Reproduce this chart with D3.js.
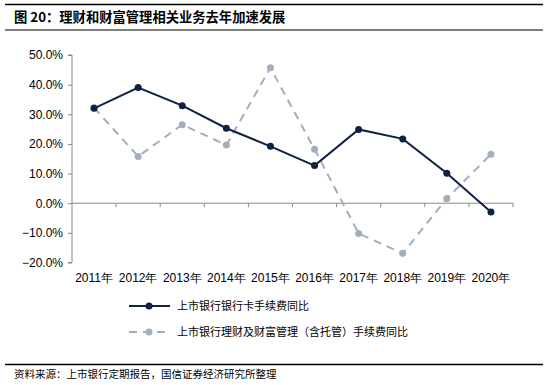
<!DOCTYPE html>
<html>
<head>
<meta charset="utf-8">
<script src="https://cdn.jsdelivr.net/npm/d3@7"></script>
<style>
  body { margin: 0; background: #fff; }
  svg { display: block; }
</style>
</head>
<body>
<div id="chart-container"></div>
<script>
// chart data
const years = ['2011年', '2012年', '2013年', '2014年', '2015年', '2016年', '2017年', '2018年', '2019年', '2020年'];
const cardFee = [32.0, 39.0, 32.9, 25.3, 19.2, 12.7, 24.9, 21.7, 10.1, -3.0];
const wealthFee = [32.2, 15.8, 26.5, 19.6, 45.7, 18.2, -10.2, -16.9, 1.6, 16.5];
const yTicks = [-20, -10, 0, 10, 20, 30, 40, 50];
const seriesNames = ['上市银行银行卡手续费同比', '上市银行理财及财富管理（含托管）手续费同比'];

const W = 548, H = 385;
const font = '"Liberation Sans", Arial, sans-serif';
const cjk = '"Noto Sans CJK SC", sans-serif';

const svg = d3.select('#chart-container')
  .append('svg')
    .attr('width', W)
    .attr('height', H);

// title block
svg.append('line').attr('x1', 5).attr('x2', 543).attr('y1', 4.5).attr('y2', 4.5)
  .attr('stroke', '#000').attr('stroke-width', 1.5);
svg.append('text')
  .attr('x', 14).attr('y', 21.5)
  .attr('font-family', cjk).attr('font-weight', 'bold').attr('font-size', 13.3)
  .text('图 20：理财和财富管理相关业务去年加速发展');
svg.append('line').attr('x1', 5).attr('x2', 543).attr('y1', 30).attr('y2', 30)
  .attr('stroke', '#000').attr('stroke-width', 1);

// scales
const x = d3.scaleBand().domain(years).range([72, 513]);
const y = d3.scaleLinear().domain([-20, 50]).range([262.5, 55]);

// y axis
const yAxis = svg.append('g')
  .attr('transform', 'translate(72,0)')
  .call(d3.axisLeft(y).tickValues(yTicks).tickSize(4).tickPadding(5)
    .tickFormat(d => d3.format('.1f')(d) + '%'));
yAxis.selectAll('text').attr('font-family', font).attr('font-size', 12).attr('fill', '#000');
yAxis.select('.domain').attr('stroke', '#888').attr('d', `M-4,${y(50)}H0V${y(-20)}H-4`);
yAxis.selectAll('.tick line').attr('stroke', '#888');

// x axis at 0
const xAxis = svg.append('g')
  .attr('transform', `translate(0,${y(0)})`)
  .call(d3.axisBottom(x).tickSize(0).tickFormat(''));
xAxis.select('.domain').attr('stroke', '#888').attr('d', `M72,0H513`);
svg.append('g')
  .selectAll('line')
  .data(years)
  .join('line')
    .attr('x1', d => x(d) + x.bandwidth()).attr('x2', d => x(d) + x.bandwidth())
    .attr('y1', y(0)).attr('y2', y(0) + 4)
    .attr('stroke', '#888');

// x labels at bottom
svg.append('g')
  .selectAll('text')
  .data(years)
  .join('text')
    .attr('x', d => x(d) + x.bandwidth() / 2)
    .attr('y', 282)
    .attr('text-anchor', 'middle')
    .attr('font-family', font)
    .attr('font-size', 12)
    .text(d => d);

const line = d3.line()
  .x((d, i) => x(years[i]) + x.bandwidth() / 2)
  .y(d => y(d));

const series = [
  { values: wealthFee, color: '#a3aebd', dash: '8,6' },
  { values: cardFee, color: '#0d2244', dash: null }
];

series.forEach(s => {
  svg.append('path')
    .datum(s.values)
    .attr('fill', 'none')
    .attr('stroke', s.color)
    .attr('stroke-width', 2)
    .attr('stroke-dasharray', s.dash)
    .attr('d', line);
  svg.append('g')
    .selectAll('circle')
    .data(s.values)
    .join('circle')
      .attr('cx', (d, i) => x(years[i]) + x.bandwidth() / 2)
      .attr('cy', d => y(d))
      .attr('r', 3.5)
      .attr('fill', s.color);
});

// legend
const legend = [
  { name: seriesNames[0], color: '#0d2244', dash: null, y: 306 },
  { name: seriesNames[1], color: '#a3aebd', dash: '8,6', y: 332 }
];
legend.forEach(l => {
  svg.append('line')
    .attr('x1', 129).attr('x2', 170).attr('y1', l.y).attr('y2', l.y)
    .attr('stroke', l.color).attr('stroke-width', 2)
    .attr('stroke-dasharray', l.dash);
  svg.append('circle').attr('cx', 149).attr('cy', l.y).attr('r', 3.5).attr('fill', l.color);
  svg.append('text')
    .attr('x', 177).attr('y', l.y + 4)
    .attr('font-family', cjk).attr('font-size', 11)
    .text(l.name);
});

// footer
svg.append('line').attr('x1', 5).attr('x2', 543).attr('y1', 364.5).attr('y2', 364.5)
  .attr('stroke', '#000').attr('stroke-width', 1.5);
svg.append('text')
  .attr('x', 14).attr('y', 378)
  .attr('font-family', cjk).attr('font-size', 10.5)
  .text('资料来源：上市银行定期报告，国信证券经济研究所整理');
</script>
</body>
</html>
